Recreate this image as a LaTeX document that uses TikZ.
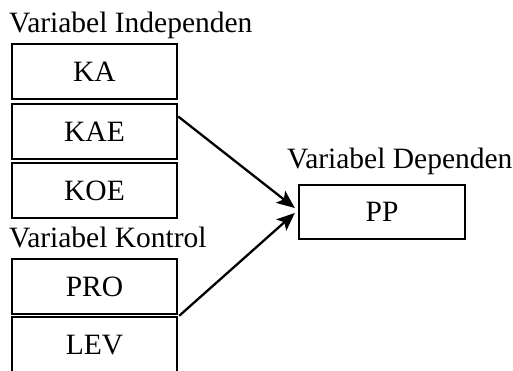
\documentclass[tikz,border=0pt]{standalone}
\usepackage{fontspec}
\setmainfont{Liberation Serif}
\usetikzlibrary{arrows.meta}
\tikzset{
  varbox/.style={draw, line width=2.4pt, minimum width=165pt, minimum height=55pt,
    inner sep=0pt, font=\fontsize{29.5}{35}\selectfont},
  grouplabel/.style={anchor=base west, inner sep=0pt, font=\fontsize{29.5}{35}\selectfont},
  link/.style={line width=2.3pt, -{Stealth[length=18pt, width=15pt, inset=4pt]}}
}
\begin{document}
\begin{tikzpicture}[x=1pt, y=-1pt]
  \useasboundingbox (0,0) rectangle (513,370);
  \clip (0,0) rectangle (513,370);

  % independent variables
  \node[grouplabel] (indep) at (9,32) {Variabel Independen};
  \node[varbox] (ka)  at (94.5,71.5)  {KA};
  \node[varbox] (kae) at (94.5,131.5) {KAE};
  \node[varbox] (koe) at (94.5,190.5) {KOE};

  % control variables
  \node[grouplabel] (kontrol) at (9,247) {Variabel Kontrol};
  \node[varbox] (pro) at (94.5,286.5) {PRO};
  \node[varbox, minimum height=57pt] (lev) at (94.5,345.5) {LEV};

  % dependent variable
  \node[grouplabel] (dep) at (287,168) {Variabel Dependen};
  \node[varbox, minimum width=166pt, minimum height=54pt] (pp) at (382,212) {PP};

  % relations
  \draw[link] ([yshift=15pt]kae.east) -- ([yshift=4pt, xshift=-3pt]pp.west);
  \draw[link] ([xshift=1pt]lev.north east) -- ([yshift=-1pt, xshift=-3pt]pp.west);
\end{tikzpicture}
\end{document}
